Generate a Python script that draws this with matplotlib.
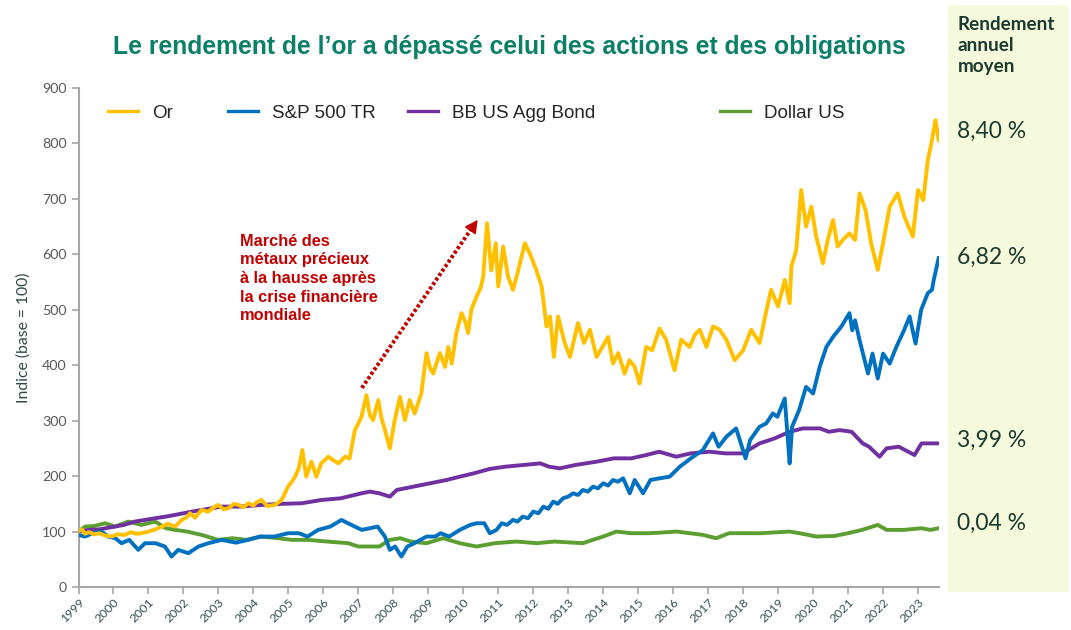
import numpy as np
import matplotlib
matplotlib.use('Agg')
import matplotlib.pyplot as plt
from matplotlib.patches import Rectangle
from matplotlib.lines import Line2D
from matplotlib.legend import Legend

# ---- data (x = years since start of 1999) ----
gold_t = [0, 0.1, 0.19, 0.3, 0.45, 0.6, 0.75, 0.95, 1.1, 1.33, 1.5, 1.65, 1.8, 2.0, 2.2, 2.38, 2.55, 2.76,
          2.95, 3.1, 3.19, 3.33, 3.52, 3.71, 3.85, 3.99, 4.15, 4.28, 4.45, 4.57, 4.72, 4.85, 5.0, 5.1, 5.23,
          5.4, 5.61, 5.81, 5.99, 6.1, 6.19, 6.3, 6.4, 6.51, 6.66, 6.8, 6.94, 7.14, 7.3, 7.43, 7.62, 7.75,
          7.9, 8.0, 8.09, 8.23, 8.33, 8.42, 8.57, 8.66, 8.76, 8.9, 9.04, 9.19, 9.33, 9.47, 9.61, 9.8, 9.95,
          10.05, 10.14, 10.33, 10.48, 10.57, 10.67, 10.8, 10.95, 11.05, 11.14, 11.23, 11.38, 11.5, 11.57,
          11.68, 11.8, 11.93, 12.0, 12.14, 12.28, 12.42, 12.57, 12.76, 12.9, 13.09, 13.24, 13.38, 13.48,
          13.59, 13.71, 13.9, 14.05, 14.28, 14.45, 14.62, 14.81, 14.98, 15.14, 15.28, 15.43, 15.61, 15.75,
          15.9, 16.04, 16.23, 16.4, 16.61, 16.8, 17.04, 17.23, 17.47, 17.62, 17.76, 17.95, 18.14, 18.33,
          18.52, 18.76, 19.0, 19.23, 19.47, 19.67, 19.8, 20.0, 20.19, 20.33, 20.38, 20.52, 20.66, 20.8,
          20.95, 21.09, 21.28, 21.42, 21.57, 21.7, 21.85, 22.04, 22.2, 22.33, 22.5, 22.66, 22.85, 23.0,
          23.19, 23.42, 23.61, 23.85, 24.0, 24.15, 24.28, 24.38, 24.5, 24.59]
gold_v = [100, 104, 96, 99, 95, 97, 93, 91, 95, 94, 99, 96, 97, 100, 104, 109, 114, 109,
          121, 126, 133, 125, 139, 136, 143, 148, 140, 142, 150, 148, 144, 151, 147, 153, 157,
          146, 148, 157, 181, 190, 199, 215, 247, 199, 226, 199, 223, 235, 228, 223, 235, 232,
          283, 295, 307, 346, 310, 301, 337, 305, 283, 250, 301, 343, 301, 337, 313, 349, 422,
          395, 385, 422, 397, 433, 403, 458, 494, 480, 458, 500, 524, 540, 560,
          656, 571, 620, 542, 614, 560, 536, 571, 620, 602, 571, 542, 470, 488,
          415, 488, 440, 415, 476, 440, 464, 415, 433, 451, 403, 422, 385, 409,
          397, 367, 433, 427, 466, 446, 391, 446, 433, 455, 464, 433, 470, 464,
          446, 409, 427, 464, 440, 500, 536, 506, 554, 512, 578, 608, 716, 650,
          686, 632, 584, 626, 662, 614, 626, 638, 626, 710, 680, 620, 572, 620,
          686, 710, 668, 632, 716, 698, 770, 800, 842, 806]

sp_t = [0, 0.19, 0.4, 0.66, 0.85, 1.05, 1.23, 1.45, 1.71, 1.9, 2.2, 2.47, 2.66, 2.85, 3.14, 3.43, 3.71,
        4.09, 4.5, 4.85, 5.2, 5.61, 5.99, 6.3, 6.55, 6.85, 7.2, 7.52, 7.7, 7.9, 8.1, 8.33, 8.55, 8.76,
        8.9, 9.05, 9.23, 9.4, 9.6, 9.95, 10.2, 10.35, 10.6, 10.9, 11.2, 11.38, 11.6, 11.76, 11.95, 12.1,
        12.25, 12.42, 12.55, 12.7, 12.85, 13.0, 13.15, 13.29, 13.43, 13.57, 13.7, 13.85, 14.0, 14.14,
        14.28, 14.42, 14.56, 14.71, 14.85, 15.0, 15.14, 15.28, 15.42, 15.57, 15.76, 15.9,
        16.14, 16.35, 16.61, 16.9, 17.19, 17.57, 17.85, 18.14, 18.3, 18.52, 18.8, 19.07, 19.2, 19.47,
        19.66, 19.85, 19.98, 20.19, 20.28, 20.33, 20.4, 20.6, 20.8, 21.0, 21.19, 21.38, 21.57, 21.8,
        22.04, 22.12, 22.2, 22.33, 22.57, 22.7, 22.85, 23.0, 23.19, 23.38, 23.6, 23.76, 23.93, 24.09,
        24.28, 24.4, 24.45, 24.59]
sp_v = [94, 91, 97, 100, 91, 88, 79, 85, 67, 79, 79, 73, 55, 67, 61, 73, 79,
        85, 80, 85, 91, 91, 97, 97, 91, 103, 109, 121, 115, 109, 103, 106, 109, 91,
        67, 73, 55, 73, 79, 91, 91, 97, 91, 103, 112, 115, 115, 97, 103, 115,
        112, 121, 118, 127, 124, 136, 133, 145, 141, 154, 150, 160, 163, 169,
        166, 175, 172, 181, 178, 187, 183, 193, 190, 196, 169, 193,
        169, 193, 196, 199, 217, 235, 247, 277, 253, 271, 286, 232, 265, 289,
        295, 313, 307, 340, 265, 223, 289, 319, 361, 349, 397, 433, 451, 469,
        494, 463, 481, 445, 385, 421, 376, 421, 403, 433, 463, 488, 439, 500,
        530, 536, 554, 593]

bond_t = [0, 0.29, 0.6, 1.04, 1.3, 1.61, 1.9, 2.19, 2.5, 2.76, 3.0, 3.25, 3.52, 3.8, 4.09, 4.6, 5.23,
          5.8, 6.38, 6.95, 7.5, 8.09, 8.33, 8.6, 8.9, 9.1, 9.57, 10.05, 10.52, 10.9, 11.3, 11.76, 12.2,
          12.71, 13.2, 13.45, 13.76, 14.2, 14.81, 15.3, 15.8, 16.23, 16.6, 17.09, 17.5, 18.04, 18.5,
          18.99, 19.47, 19.9, 20.33, 20.71, 21.2, 21.45, 21.76, 22.1, 22.42, 22.6, 22.9, 23.1, 23.45,
          23.9, 24.1, 24.59]
bond_v = [100, 103, 104, 109, 112, 118, 121, 124, 127, 130, 133, 136, 139, 142, 145, 145, 148,
          150, 151, 157, 160, 169, 172, 169, 163, 175, 181, 187, 193, 199, 205, 213, 217,
          220, 223, 217, 214, 220, 226, 232, 232, 238, 244, 235, 241, 244, 241,
          241, 259, 268, 280, 286, 286, 280, 283, 280, 259, 253, 235, 250, 253,
          238, 259, 259]

usd_t = [0, 0.19, 0.45, 0.76, 1.05, 1.42, 1.8, 2.19, 2.5, 2.76, 3.1, 3.52, 3.99, 4.4, 4.8, 5.2, 5.71,
         6.1, 6.57, 7.1, 7.71, 8.0, 8.33, 8.6, 8.9, 9.2, 9.5, 9.95, 10.42, 10.9, 11.38, 11.9, 12.52,
         13.1, 13.6, 14.42, 14.7, 15.0, 15.38, 15.8, 16.3, 16.61, 17.1, 17.85, 18.23, 18.6, 19.5,
         20.33, 20.7, 21.09, 21.6, 22.0, 22.4, 22.85, 23.1, 23.6, 24.1, 24.35, 24.59]
usd_v = [100, 109, 110, 115, 109, 118, 112, 118, 106, 103, 100, 94, 85, 88, 85, 91, 88,
         85, 85, 82, 79, 73, 73, 73, 85, 88, 82, 79, 88, 79, 73, 79, 82,
         79, 82, 79, 85, 91, 100, 97, 97, 98, 100, 94, 88, 97, 97,
         100, 96, 91, 92, 97, 103, 112, 103, 103, 106, 103, 106]

names = ['Or', 'S&P 500 TR', 'BB US Agg Bond', 'Dollar US']
colors = ['#FFC000', '#0070C0', '#7030A0', '#5C9E31']
returns = ['8,40 %', '6,82 %', '3,99 %', '0,04 %']
return_y = [131, 257, 440, 523]      # pixel rows of the labels in the side panel
legend_x = [108, 228, 408, 720]      # pixel column where each legend entry starts
years = list(range(1999, 2024))

# ---- figure ----
W, H = 1071, 630
fig = plt.figure(figsize=(W / 100, H / 100), dpi=100)
ax_l, ax_r, ax_b, ax_t = 78.5, 939, 587, 88
ax = fig.add_axes([ax_l / W, 1 - ax_b / H, (ax_r - ax_l) / W, (ax_b - ax_t) / H])

# side panel
fig.patches.append(Rectangle((0.885, 0.06), 0.112, 0.932, transform=fig.transFigure,
                             facecolor='#F5FADC', edgecolor='none', zorder=0))

series = [(gold_t, gold_v), (sp_t, sp_v), (bond_t, bond_v), (usd_t, usd_v)]
zorders = [5, 4, 3, 2]
for (t, v), name, c, z in zip(series, names, colors, zorders):
    ax.plot(1999 + np.array(t), v, color=c, lw=2.8, label=name, zorder=z,
            solid_joinstyle='round')

ax.set_xlim(1999, 2023.6)
ax.set_ylim(0, 900)
ax.set_yticks(range(0, 901, 100))
ax.set_xticks(years)
ax.set_xticklabels([str(y) for y in years], rotation=45, ha='right', va='top',
                   rotation_mode='anchor', fontsize=8.8, color='#2F4F4F', family='Lato')
for lab in ax.get_yticklabels():
    lab.set_family('Lato')
ax.tick_params(axis='y', labelsize=10.3, colors='#595959', length=5, width=1.2, color='#A6A6A6')
ax.tick_params(axis='x', length=5, width=1.2, color='#A6A6A6', pad=2)
for s in ['top', 'right']:
    ax.spines[s].set_visible(False)
for s in ['left', 'bottom']:
    ax.spines[s].set_color('#A6A6A6')
    ax.spines[s].set_linewidth(1.5)

ax.set_ylabel('Indice (base = 100)', fontsize=11.3, color='#2E4A44', family='Lato', labelpad=8)

# legend: one entry per legend box, placed where the reference has them
for name, c, px in zip(names, colors, legend_x):
    h = Line2D([], [], color=c, lw=2.4)
    lg = Legend(ax, [h], [name], loc='center left',
                bbox_to_anchor=((px - ax_l) / (ax_r - ax_l), (ax_b - 113) / (ax_b - ax_t)),
                frameon=False, prop={'family': 'Liberation Sans', 'size': 13.6},
                handlelength=1.6, handletextpad=0.75, borderpad=0, borderaxespad=0)
    lg.get_texts()[0].set_color('#262626')
    ax.add_artist(lg)

# annotation
ax.text(1999 + 4.61, 637, 'Marché des\nmétaux précieux\nà la hausse après\nla crise financière\nmondiale',
        ha='left', va='top', fontsize=11.8, fontweight='bold', color='#C00000',
        family='Liberation Sans', linespacing=1.3)
ax.plot([1999 + 8.1, 1999 + 11.23], [359, 646], color='#C00000', lw=2.8,
        ls=(0, (0.8, 0.6)), dash_capstyle='butt', zorder=6)
ax.annotate('', xy=(1999 + 11.41, 662), xytext=(1999 + 11.2, 643),
            arrowprops=dict(arrowstyle='-|>,head_length=0.8,head_width=0.42', color='#C00000',
                            lw=1, shrinkA=0, shrinkB=0), zorder=6)

# title
fig.text(0.476, 0.925, "Le rendement de l\u2019or a dépassé celui des actions et des obligations",
         ha='center', va='center', fontsize=17.8, fontweight='bold', color='#0B7F68',
         family='Liberation Sans')

# side panel texts
fig.text(0.894, 0.975, 'Rendement\nannuel\nmoyen', ha='left', va='top', fontsize=13.6,
         fontweight='bold', color='#1B3A2E', family='Lato', linespacing=1.28)
for r, py in zip(returns, return_y):
    fig.text(0.894, 1 - py / H, r, ha='left', va='center', fontsize=16.5,
             color='#1B3A2E', family='Lato')

fig.savefig('out.png', dpi=100)
